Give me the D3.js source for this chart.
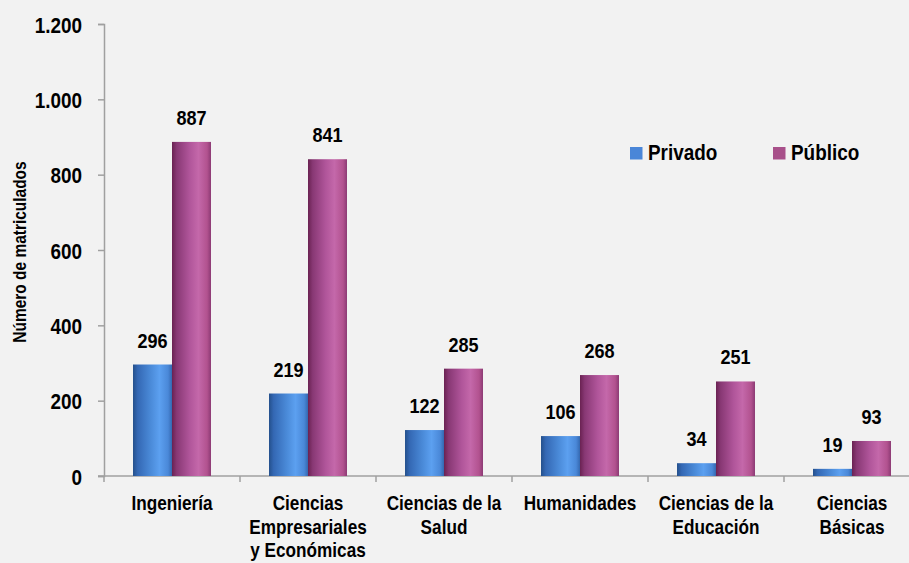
<!DOCTYPE html>
<html>
<head>
<meta charset="utf-8">
<script src="https://cdn.jsdelivr.net/npm/d3@7"></script>
<style>
  html, body { margin: 0; padding: 0; background: #f2f2f2; }
  svg { display: block; }
  text { font-family: 'Liberation Sans', Arial, sans-serif; font-weight: bold; fill: #000; }
</style>
</head>
<body>
<svg id="chart" width="909" height="563"></svg>
<script>
const categories = [
  ["Ingeniería"],
  ["Ciencias", "Empresariales", "y Económicas"],
  ["Ciencias de la", "Salud"],
  ["Humanidades"],
  ["Ciencias de la", "Educación"],
  ["Ciencias", "Básicas"]
];
const seriesNames = ["Privado", "Público"];
const privado = [296, 219, 122, 106, 34, 19];
const publico = [887, 841, 285, 268, 251, 93];
const yTicks = [0, 200, 400, 600, 800, 1000, 1200];
const yTickLabels = ["0", "200", "400", "600", "800", "1.000", "1.200"];
const yTitle = "Número de matriculados";

const SX = 0.86;
const svg = d3.select("#chart");
svg.append("rect").attr("width", 909).attr("height", 563).attr("fill", "#f2f2f2");

const defs = svg.append("defs");
function grad(id, stops) {
  const g = defs.append("linearGradient").attr("id", id)
    .attr("x1", "0%").attr("x2", "100%").attr("y1", "0%").attr("y2", "0%");
  stops.forEach(([o, c]) => g.append("stop").attr("offset", o).attr("stop-color", c));
}
grad("gBlue", [[0, "#24508c"], [0.12, "#3468b4"], [0.45, "#4a8ad8"], [0.68, "#5ca0f0"], [0.9, "#4a88d8"], [1, "#3468b0"]]);
grad("gMag", [[0, "#6a2252"], [0.12, "#883874"], [0.45, "#b0559a"], [0.68, "#c468aa"], [0.9, "#b2528f"], [1, "#8c3a74"]]);
const fills = { "Privado": "url(#gBlue)", "Público": "url(#gMag)" };
const legendColors = { "Privado": "#4a86d8", "Público": "#a8508a" };

const keys = categories.map(c => c.join(" "));
const x = d3.scaleBand().domain(keys).range([104, 920]).padding(0);
const x1 = d3.scaleBand().domain(seriesNames).range([0, x.bandwidth()]).paddingInner(0).paddingOuter(0.744);
const y = d3.scaleLinear().domain([0, 1200]).range([476, 24]);

const axisColor = "#a0a0a0";

// Y axis
const yAxis = svg.append("g").attr("transform", "translate(104,0)")
  .call(d3.axisLeft(y).tickValues(yTicks).tickSize(6).tickFormat((d, i) => yTickLabels[i]));
yAxis.select(".domain").attr("stroke", axisColor).attr("stroke-width", 1.5);
yAxis.selectAll(".tick line").attr("stroke", axisColor).attr("stroke-width", 1.5);
yAxis.selectAll(".tick text").remove();
yAxis.selectAll(".tick").append("text")
  .attr("transform", `translate(-22,8) scale(${SX},1)`)
  .attr("text-anchor", "end")
  .style("font-size", "22px")
  .text((d, i) => yTickLabels[i]);

// X axis
const xAxisG = svg.append("g").attr("transform", "translate(0,476)");
xAxisG.append("line").attr("x1", 98).attr("x2", 909).attr("y1", 0).attr("y2", 0)
  .attr("stroke", axisColor).attr("stroke-width", 1.5);
xAxisG.selectAll("line.tk").data(keys).enter().append("line").attr("class", "tk")
  .attr("x1", d => x(d)).attr("x2", d => x(d)).attr("y1", 0).attr("y2", 6)
  .attr("stroke", axisColor).attr("stroke-width", 1.5);

// category labels
const catG = svg.append("g");
categories.forEach((lines, i) => {
  const cx = x(keys[i]) + x.bandwidth() / 2;
  lines.forEach((ln, j) => {
    catG.append("text")
      .attr("transform", `translate(${cx},${510 + j * 23.5}) scale(${SX},1)`)
      .attr("text-anchor", "middle")
      .style("font-size", "20px")
      .text(ln);
  });
});

// bars
const data = keys.map((k, i) => ({ key: k, values: [{ s: "Privado", v: privado[i] }, { s: "Público", v: publico[i] }] }));
const groups = svg.append("g").selectAll("g").data(data).enter().append("g")
  .attr("transform", d => `translate(${x(d.key)},0)`);
groups.selectAll("rect").data(d => d.values).enter().append("rect")
  .attr("x", d => x1(d.s)).attr("width", x1.bandwidth())
  .attr("y", d => y(d.v)).attr("height", d => y(0) - y(d.v))
  .attr("fill", d => fills[d.s]);
groups.selectAll("text").data(d => d.values).enter().append("text")
  .attr("transform", d => `translate(${x1(d.s) + x1.bandwidth() / 2},${y(d.v) - 17}) scale(${SX},1)`)
  .attr("text-anchor", "middle")
  .style("font-size", "21px")
  .text(d => d.v);

// Y title
svg.append("text")
  .attr("transform", `translate(26,252) rotate(-90) scale(${SX},1)`)
  .attr("text-anchor", "middle")
  .style("font-size", "18px")
  .text(yTitle);

// legend
const legendPos = { "Privado": 630, "Público": 773 };
seriesNames.forEach(s => {
  svg.append("rect").attr("x", legendPos[s]).attr("y", 147).attr("width", 12.5).attr("height", 12.5)
    .attr("fill", legendColors[s]);
  svg.append("text")
    .attr("transform", `translate(${legendPos[s] + 18},160) scale(${SX},1)`)
    .style("font-size", "22px")
    .text(s);
});
</script>
</body>
</html>
